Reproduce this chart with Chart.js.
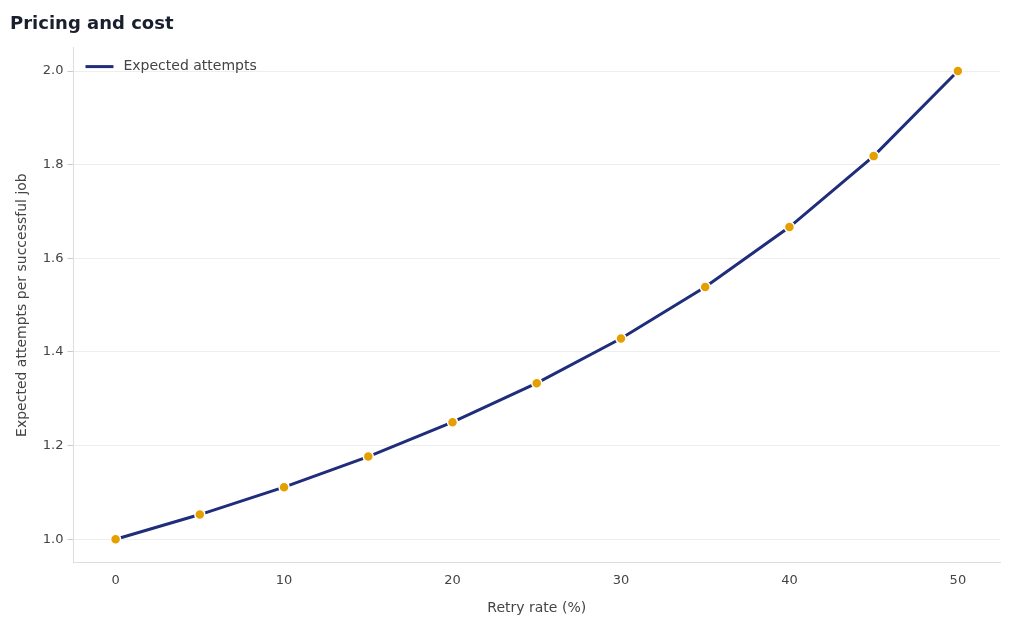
<!DOCTYPE html>
<html><head><meta charset="utf-8">
<script src="https://cdn.jsdelivr.net/npm/chart.js@4.4.0/dist/chart.umd.min.js"></script>
<style>html,body{margin:0;padding:0;background:#fff}#w{width:1024px;height:631px}</style>
</head><body><div id="w"><canvas id="c"></canvas></div>
<script>
const retryRates = [0,5,10,15,20,25,30,35,40,45,50];
const expectedAttempts = [1.0,1.0526,1.1111,1.1765,1.25,1.3333,1.4286,1.5385,1.6667,1.8182,2.0];
const yTicks = [1.0,1.2,1.4,1.6,1.8,2.0];
const seriesName = 'Expected attempts';
const F = "'DejaVu Sans', sans-serif";
const lineColor = '#1f2d7b';

const legendInside = {
  id:'legendInside',
  afterDraw(chart){
    const {ctx, chartArea} = chart;
    const x = chartArea.left + 12, y = chartArea.top + 19;
    ctx.save();
    ctx.strokeStyle = lineColor; ctx.lineWidth = 3;
    ctx.beginPath(); ctx.moveTo(x, y); ctx.lineTo(x+28, y); ctx.stroke();
    ctx.fillStyle = '#444'; ctx.font = '14px ' + F; ctx.textBaseline = 'middle';
    ctx.fillText(seriesName, x+38, y);
    ctx.restore();
  }
};

new Chart(document.getElementById('c'), {
  type:'line',
  data:{datasets:[{
    label:seriesName,
    data:retryRates.map((r,i)=>({x:r,y:expectedAttempts[i]})),
    borderColor:lineColor, borderWidth:3, tension:0,
    pointBackgroundColor:'#e69f00', pointBorderColor:'#fff', pointBorderWidth:1.5, pointRadius:5
  }]},
  options:{
    responsive:true, maintainAspectRatio:false, animation:false,
    layout:{padding:{left:10,right:24,top:10,bottom:10}},
    plugins:{
      legend:{display:false},
      title:{display:true, text:'Pricing and cost', align:'start', color:'#1a1f2e',
        font:{family:F,size:18,weight:'bold'}, padding:{top:4,bottom:12}},
      tooltip:{enabled:false}
    },
    scales:{
      x:{type:'linear', min:-2.5, max:52.5,
        afterBuildTicks(a){a.ticks=[0,10,20,30,40,50].map(v=>({value:v}));},
        grid:{display:false, drawTicks:true, tickLength:6},
        border:{display:true,color:'#ddd'},
        ticks:{color:'#444',font:{family:F,size:13},padding:4},
        title:{display:true,text:'Retry rate (%)',color:'#444',font:{family:F,size:14},padding:{top:8}}
      },
      y:{min:0.95, max:2.05,
        afterBuildTicks(a){a.ticks=yTicks.map(v=>({value:v}));},
        grid:{color:'#eeeeee', tickLength:6, tickColor:'#ccc'},
        border:{display:true,color:'#ddd'},
        ticks:{color:'#444',font:{family:F,size:13},padding:4,callback:v=>v.toFixed(1)},
        title:{display:true,text:'Expected attempts per successful job',color:'#444',font:{family:F,size:14},padding:{bottom:8}}
      }
    }
  },
  plugins:[legendInside]
});
</script></body></html>
